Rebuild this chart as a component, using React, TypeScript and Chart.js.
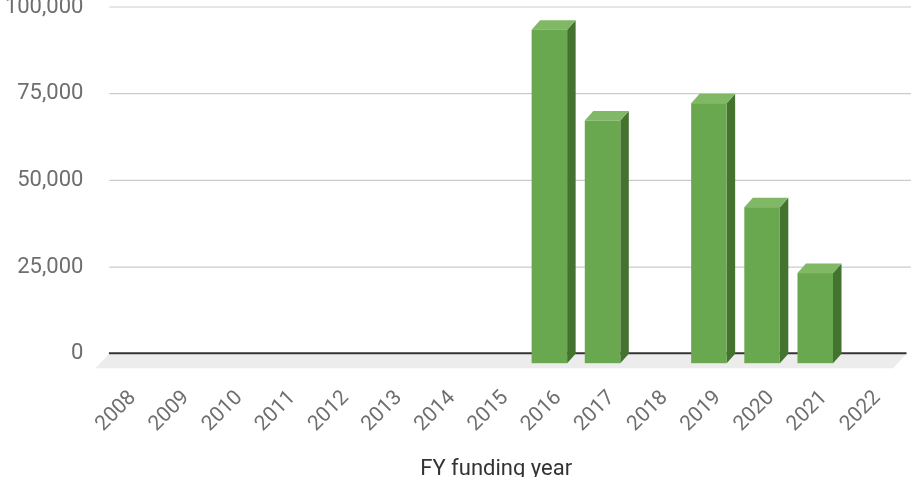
import React, { useEffect, useRef } from 'react';
import { Chart, registerables } from 'chart.js';

Chart.register(...registerables);

// ---- data ----
const categories: string[] = [
  '2008', '2009', '2010', '2011', '2012', '2013', '2014', '2015',
  '2016', '2017', '2018', '2019', '2020', '2021', '2022',
];
const fundingValues: (number | null)[] = [
  null, null, null, null, null, null, null, null,
  96200, 70000, null, 75000, 45000, 26000, null,
];
const yTickValues: number[] = [0, 25000, 50000, 75000, 100000];
const xTitle = 'FY funding year';

// ---- style ----
const DX = 8.5;
const DY = 9.5;
const FRONT = '#6aa84f';
const SIDE = '#44722f';
const TOP = '#80b866';

const threeDPlugin = {
  id: 'threeD',
  beforeDatasetsDraw(chart: any) {
    const { ctx, chartArea, scales } = chart;
    const y = scales.y;
    const zero = y.getPixelForValue(0);
    ctx.save();
    // gridlines (back wall)
    ctx.strokeStyle = '#cbcbcb';
    ctx.lineWidth = 1.2;
    for (const t of y.ticks) {
      if (t.value === 0) continue;
      const py = y.getPixelForValue(t.value);
      ctx.beginPath();
      ctx.moveTo(chartArea.left + 12, py);
      ctx.lineTo(chart.width, py);
      ctx.stroke();
    }
    // floor
    ctx.fillStyle = '#ececec';
    ctx.beginPath();
    ctx.moveTo(chartArea.left + 11, zero + 0.5);
    ctx.lineTo(chartArea.right + 11, zero + 0.5);
    ctx.lineTo(chartArea.right - 2, zero + 14.5);
    ctx.lineTo(chartArea.left - 2, zero + 14.5);
    ctx.closePath();
    ctx.fill();
    // zero line
    ctx.strokeStyle = '#333333';
    ctx.lineWidth = 2;
    ctx.beginPath();
    ctx.moveTo(chartArea.left + 11.5, zero - 0.5);
    ctx.lineTo(chartArea.right + 11.5, zero - 0.5);
    ctx.stroke();
    ctx.restore();
  },
  afterDatasetsDraw(chart: any) {
    const { ctx, scales } = chart;
    const y = scales.y;
    const zero = y.getPixelForValue(0);
    const meta = chart.getDatasetMeta(0);
    const data = chart.data.datasets[0].data as (number | null)[];
    ctx.save();
    meta.data.forEach((el: any, i: number) => {
      const v = data[i];
      if (v == null) return;
      const { x, width } = el.getProps(['x', 'width'], true);
      const l = x - width / 2;
      const r = x + width / 2;
      const top = y.getPixelForValue(v) + DY;
      const bottom = zero + DY;
      // side face
      ctx.fillStyle = SIDE;
      ctx.beginPath();
      ctx.moveTo(r, top);
      ctx.lineTo(r + DX, top - DY);
      ctx.lineTo(r + DX, bottom - DY);
      ctx.lineTo(r, bottom);
      ctx.closePath();
      ctx.fill();
      // top face
      ctx.fillStyle = TOP;
      ctx.beginPath();
      ctx.moveTo(l, top);
      ctx.lineTo(l + DX, top - DY);
      ctx.lineTo(r + DX, top - DY);
      ctx.lineTo(r, top);
      ctx.closePath();
      ctx.fill();
      // front face
      ctx.fillStyle = FRONT;
      ctx.fillRect(l, top, width, bottom - top);
    });
    ctx.restore();
  },
};

export default function App() {
  const ref = useRef<HTMLCanvasElement>(null);
  useEffect(() => {
    document.body.style.margin = '0';
    document.body.style.overflow = 'hidden';
    const chart = new Chart(ref.current as HTMLCanvasElement, {
      type: 'bar',
      data: {
        labels: categories,
        datasets: [
          {
            label: 'Funding',
            data: fundingValues as any,
            backgroundColor: 'rgba(0,0,0,0)',
            borderWidth: 0,
            barPercentage: 0.668,
            categoryPercentage: 1,
          },
        ],
      },
      options: {
        responsive: false,
        animation: false,
        devicePixelRatio: 1,
        layout: { padding: { top: 7, right: 16, left: 0, bottom: 0 } },
        plugins: {
          legend: { display: false },
          tooltip: { enabled: false },
        },
        scales: {
          x: {
            grid: { display: false, drawTicks: false },
            border: { display: false },
            ticks: {
              autoSkip: false,
              maxRotation: 45,
              minRotation: 45,
              padding: 32,
              labelOffset: 9,
              color: '#6e6e6e',
              font: { family: 'Roboto', size: 21 },
            },
            title: {
              display: true,
              text: xTitle,
              color: '#333333',
              font: { family: 'Roboto', size: 22, lineHeight: 0.65 },
              padding: { top: 0, bottom: 0 },
            },
            afterFit: (scale: any) => {
              scale.height = 123.3;
              scale.paddingLeft = 0;
              scale.paddingRight = 0;
            },
          },
          y: {
            min: 0,
            max: 100000,
            afterBuildTicks: (scale: any) => {
              scale.ticks = yTickValues.map((v) => ({ value: v }));
            },
            grid: { display: false, drawTicks: false },
            border: { display: false },
            ticks: {
              padding: 14,
              color: '#6e6e6e',
              font: { family: 'Roboto', size: 22 },
              callback: (v: any) => Number(v).toLocaleString('en-US'),
            },
            afterFit: (scale: any) => {
              scale.width = 97.4;
              scale.paddingTop = 0;
              scale.paddingBottom = 0;
            },
          },
        },
      },
      plugins: [threeDPlugin],
    });
    return () => chart.destroy();
  }, []);
  return (
    <div style={{ position: 'fixed', left: 0, top: 0, width: 911, height: 477 }}>
      <canvas ref={ref} width={911} height={477} style={{ display: 'block' }} />
    </div>
  );
}
